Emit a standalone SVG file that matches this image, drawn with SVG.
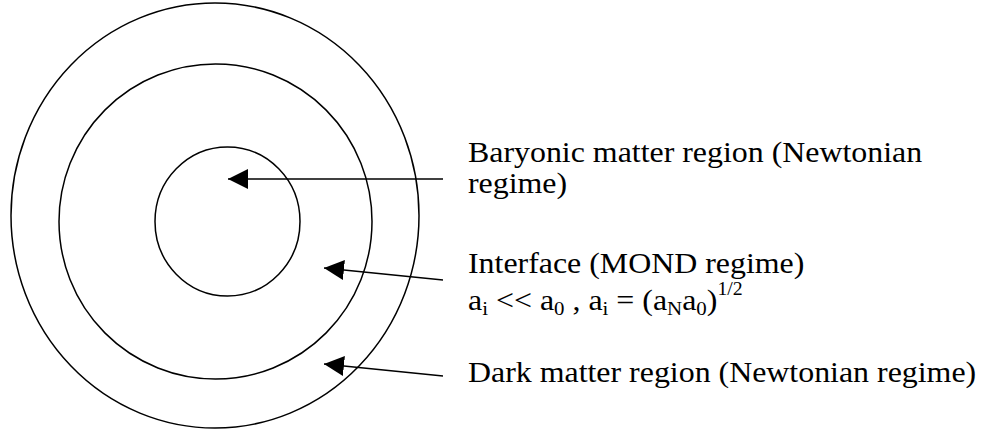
<svg xmlns="http://www.w3.org/2000/svg" width="981" height="432" viewBox="0 0 981 432">
<style>
.ring{fill:none;stroke:#000;stroke-width:1.5}
.conn{stroke:#000;stroke-width:1.5;fill:none}
.lbl{font-family:"Liberation Serif","Times New Roman",serif;font-size:29px;fill:#000}
.s{font-size:19px}
.sup{font-size:18px}
</style>
<defs>
<marker id="ah" markerUnits="userSpaceOnUse" markerWidth="20" markerHeight="20" refX="20" refY="10" orient="auto">
<path d="M0,0 L20,10 L0,20 Z" fill="#000"/>
</marker>
</defs>
<rect width="981" height="432" fill="#fff"/>
<g id="dark-matter-region"><ellipse class="ring" cx="215" cy="215.5" rx="204" ry="212.5"/></g>
<g id="interface-region"><ellipse class="ring" cx="215.5" cy="221.5" rx="156.5" ry="157.5"/></g>
<g id="baryonic-region"><ellipse class="ring" cx="227.5" cy="221.5" rx="72.5" ry="74.5"/></g>
<g id="connectors">
<line class="conn" x1="443" y1="179" x2="228" y2="179" marker-end="url(#ah)"/>
<line class="conn" x1="443" y1="280" x2="324" y2="268" marker-end="url(#ah)"/>
<line class="conn" x1="443" y1="376" x2="324" y2="364" marker-end="url(#ah)"/>
</g>
<g id="label-baryonic">
<text class="lbl" transform="translate(468,161.5) scale(1.1,1)">Baryonic matter region (Newtonian</text>
<text class="lbl" transform="translate(468,193) scale(1.1,1)">regime)</text>
</g>
<g id="label-interface">
<text class="lbl" transform="translate(468,273) scale(1.1,1)">Interface (MOND regime)</text>
<text class="lbl" transform="translate(468,309.5) scale(1.1,1)">a<tspan class="s" dy="5">i</tspan><tspan dy="-5"> &lt;&lt; a</tspan><tspan class="s" dy="5">0</tspan><tspan dy="-5"> , a</tspan><tspan class="s" dy="5">i</tspan><tspan dy="-5"> = (a</tspan><tspan class="s" dy="5">N</tspan><tspan dy="-5">a</tspan><tspan class="s" dy="5">0</tspan><tspan dy="-5">)</tspan><tspan class="sup" dy="-15">1/2</tspan></text>
</g>
<g id="label-dark">
<text class="lbl" transform="translate(468,382) scale(1.1,1)">Dark matter region (Newtonian regime)</text>
</g>
</svg>
